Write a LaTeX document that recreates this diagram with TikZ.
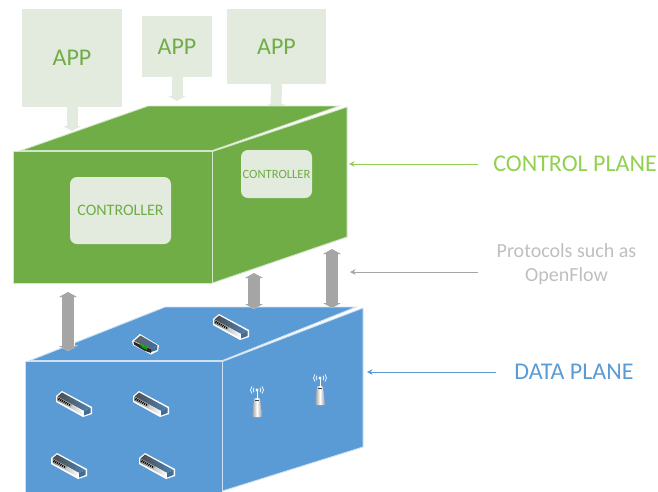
\documentclass[tikz,border=0pt]{standalone}
\usepackage{fontspec}
\setmainfont{Carlito}
\usetikzlibrary{arrows.meta}
\definecolor{cgreen}{HTML}{70AD47}
\definecolor{cblue}{HTML}{5B9BD5}
\definecolor{cpale}{HTML}{E2EBDD}
\definecolor{cgray}{HTML}{A5A5A5}
\definecolor{clabel}{HTML}{92D050}
\definecolor{cptxt}{HTML}{BFBFBF}
\tikzset{
  greenface/.style={fill=cgreen,draw=white!70!cgreen,line width=0.9pt,line join=miter},
  blueface/.style={fill=cblue,draw=white!70!cblue,line width=0.9pt,line join=miter},
  appbox/.style={fill=cpale,draw=none,inner sep=0pt,text=cgreen,font=\fontsize{24}{26}\selectfont},
  appstem/.style={draw=cpale,line width=11pt,-{Triangle[width=18pt,length=5pt]}},
  ctrlbox/.style={fill=cpale,draw=none,rounded corners=7pt,inner sep=0pt,text=cgreen},
  linkarrow/.style={draw=cgray,line width=12pt,{Triangle[width=18pt,length=5pt]}-{Triangle[width=18pt,length=5pt]},
    preaction={draw=white,line width=13pt,{Triangle[width=20pt,length=5.5pt]}-{Triangle[width=20pt,length=5.5pt]}}},
  callout/.style={line width=0.8pt,-{Stealth[length=5.5pt,width=5.5pt]}},
  planelabel/.style={inner sep=0pt,align=center},
  switchpic/.pic={
    \fill[white,line join=round] (-18,-8) -- (-12,-13) -- (18,3) -- (18,10) -- (9,13) -- (-18,-2) -- cycle;
    \shade[left color=black!70,right color=black!15!cblue] (-16.5,-7.5) -- (-12,-11.5) -- (16.5,4) -- (10,7) -- cycle;
    \shade[left color=black!45,right color=white] (-16.5,-7.5) -- (10,7) -- (10,11.5) -- (-16.5,-3) -- cycle;
    \fill[cblue!70!black] (10,7) -- (16.5,4) -- (16.5,9) -- (10,11.5) -- cycle;
    \draw[black,line width=2.2pt,dash pattern=on 1pt off 1pt] (-15.5,-5.2) -- (-3,1.5);
  },
  routerpic/.pic={
    \fill[white,line join=round] (-14,-3) -- (-6,-10) -- (13,1.5) -- (12,7) -- (5,10.5) -- (-13,1) -- cycle;
    \shade[left color=black!60,right color=cblue!70!black] (-12,-3) -- (-5.5,-8.5) -- (11.5,1.5) -- (5,5) -- cycle;
    \fill[cblue!70!black] (5,5) -- (11.5,1.5) -- (11,6) -- (5,8) -- cycle;
    \fill[black!85] (-12.5,-2.5) -- (-3,2) -- (5,5) -- (5,9) -- (-2,6.5) -- (-12,0.5) -- cycle;
    \fill[green!65!black] (-7,-0.5) -- (1,3) -- (1,6) -- (-4,3.5) -- cycle;
  },
  antennapic/.pic={
    \shade[left color=black!40,right color=black!40,middle color=white,rounded corners=1pt] (-2.9,8) -- (2.9,8) -- (5,27) -- (-5,27) -- cycle;
    \fill[black!75] (-2,9.5) rectangle (2,11);
    \draw[white,line width=1pt] (0,0) -- (0,8);
    \fill[white] (0,0) circle (1.6pt);
    \draw[white,line width=0.7pt] (-3,-2.2) .. controls (-4.2,-0.8) and (-4.2,0.8) .. (-3,2.2);
    \draw[white,line width=0.7pt] (3,-2.2) .. controls (4.2,-0.8) and (4.2,0.8) .. (3,2.2);
    \draw[white,line width=0.7pt] (-5,-3.6) .. controls (-7,-1.2) and (-7,1.2) .. (-5,3.6);
    \draw[white,line width=0.7pt] (5,-3.6) .. controls (7,-1.2) and (7,1.2) .. (5,3.6);
  }
}
\begin{document}
\begin{tikzpicture}[x=1pt,y=-1pt]
\useasboundingbox (0,0) rectangle (658,491);

% applications
\node[appbox,minimum width=100pt,minimum height=98pt] (app1) at (72,58) {APP};
\node[appbox,minimum width=70pt,minimum height=61pt] (app2) at (177,46.5) {APP};
\node[appbox,minimum width=99pt,minimum height=75pt] (app3) at (276.5,46.5) {APP};
\coordinate (tip1) at (72,131);
\coordinate (tip2) at (177,101);
\coordinate (tip3) at (276,109);
\draw[appstem] (app1.south) -- (tip1);
\draw[appstem] (app2.south) -- (tip2);
\draw[appstem] (app3.south) -- (tip3);

% control plane box
\path[greenface] (21,150.5) -- (148,106) -- (339,106) -- (212.5,150.5) -- cycle;
\path[greenface] (13,151.5) rectangle (212.5,283);
\path[greenface] (212.5,151.5) -- (347,107) -- (347,237) -- (212.5,283) -- cycle;
\node[ctrlbox,minimum width=101pt,minimum height=67pt,font=\fontsize{16}{18}\selectfont] (ctrl1) at (120.5,210.5) {CONTROLLER};
\node[ctrlbox,minimum width=71pt,minimum height=48pt,font=\fontsize{12.6}{14}\selectfont] (ctrl2) at (276.5,174) {CONTROLLER};

% data plane box
\path[blueface] (30,360.5) -- (165,307) -- (356,307) -- (222.5,360.5) -- cycle;
\path[blueface] (25,361.5) rectangle (222.5,495);
\path[blueface] (222.5,361.5) -- (363,308) -- (363,447) -- (222.5,491) -- cycle;

% links between planes
\coordinate (la) at (68,292);  \coordinate (lb) at (68,351);
\coordinate (ma) at (254,273); \coordinate (mb) at (254,309);
\coordinate (ra) at (332,249); \coordinate (rb) at (332,308);
\draw[linkarrow] (la) -- (lb);
\draw[linkarrow] (ma) -- (mb);
\draw[linkarrow] (ra) -- (rb);

% devices
\pic at (231,327) {switchpic};
\pic at (146,344) {routerpic};
\pic at (74,404) {switchpic};
\pic at (151,404) {switchpic};
\pic at (69,466) {switchpic};
\pic at (157,466) {switchpic};
\pic at (257,390) {antennapic};
\pic at (320,378) {antennapic};

% labels
\node[planelabel,text=clabel,font=\fontsize{24}{28}\selectfont] (lctrl) at (575,164) {CONTROL PLANE};
\node[planelabel,text=cptxt,font=\fontsize{20}{24}\selectfont] (lprot) at (566.5,264) {Protocols such as\\OpenFlow};
\node[planelabel,text=cblue,font=\fontsize{24}{28}\selectfont] (ldata) at (574,372) {DATA PLANE};
\coordinate (pctrl) at (349,164);
\coordinate (sctrl) at (478,164);
\coordinate (sprot) at (478,272);
\coordinate (pprot) at (350,272);
\coordinate (sdata) at (496,372);
\coordinate (pdata) at (367,372);
\draw[callout,draw=clabel] (sctrl) -- (pctrl);
\draw[callout,draw=cgray] (sprot) -- (pprot);
\draw[callout,draw=cblue] (sdata) -- (pdata);
\end{tikzpicture}
\end{document}
